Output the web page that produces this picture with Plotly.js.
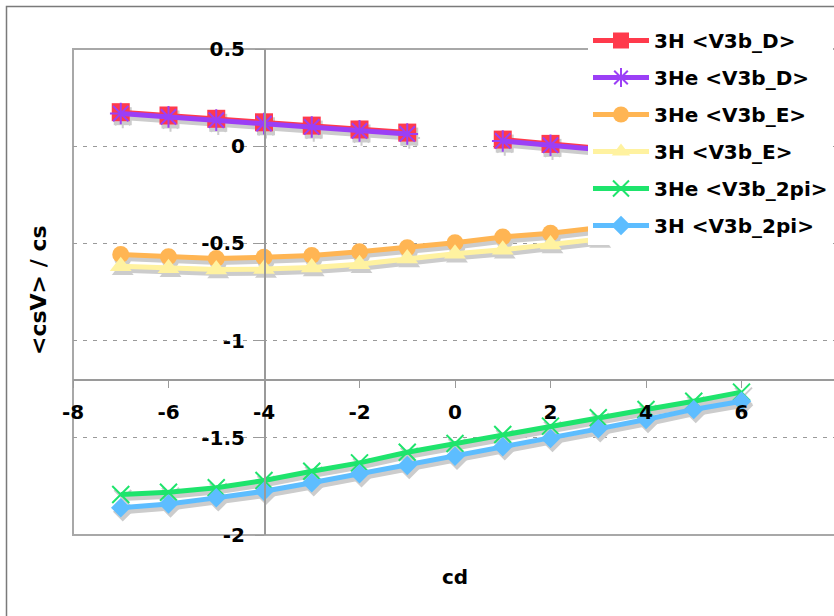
<!DOCTYPE html>
<html><head><meta charset="utf-8">
<script src="https://cdn.plot.ly/plotly-3.0.1.min.js"></script>
<style>html,body{margin:0;padding:0;overflow:hidden;background:#fff}#chart{width:837px;height:616px}</style>
</head><body><div id="chart"></div>
<script>
// ---- data ----
const cd = [-7, -6, -5, -4, -3, -2, -1, 0, 1, 2, 3, 4, 5, 6];
const h3_V3b_D   = [0.175, 0.158, 0.141, 0.123, 0.106, 0.086, 0.070, null, 0.034, 0.012, -0.010];
const he3_V3b_D  = [0.168, 0.151, 0.134, 0.116, 0.099, 0.079, 0.063, null, 0.027, 0.005, -0.017];
const he3_V3b_E  = [-0.557, -0.569, -0.578, -0.571, -0.562, -0.543, -0.523, -0.497, -0.467, -0.448, -0.420];
const h3_V3b_E   = [-0.618, -0.628, -0.634, -0.632, -0.624, -0.607, -0.578, -0.553, -0.533, -0.506, -0.478];
const he3_V3b_2pi = [-1.792, -1.780, -1.757, -1.720, -1.672, -1.629, -1.574, -1.529, -1.483, -1.440, -1.397, -1.354, -1.312, -1.265];
const h3_V3b_2pi  = [-1.860, -1.840, -1.809, -1.775, -1.731, -1.685, -1.643, -1.595, -1.546, -1.504, -1.454, -1.406, -1.354, -1.312];
const seriesNames = ['3H <V3b_D>', '3He <V3b_D>', '3He <V3b_E>', '3H <V3b_E>', '3He <V3b_2pi>', '3H <V3b_2pi>'];
const xTickVals = [-8, -6, -4, -2, 0, 2, 4, 6, 8];
const xTickText = ['-8', '-6', '-4', '-2', '0', '2', '4', '6', '8'];
const yTickVals = [-2, -1.5, -1, -0.5, 0, 0.5];
const yTickText = ['-2', '-1.5', '-1', '-0.5', '0', '0.5'];

// ---- styles ----
const seriesValues = [h3_V3b_D, he3_V3b_D, he3_V3b_E, h3_V3b_E, he3_V3b_2pi, h3_V3b_2pi];
const styles = [
  {color:'#ff3a4c', symbol:'square', size:18, lw:0},
  {color:'#9b3ff6', symbol:'asterisk-open', size:18, lw:2},
  {color:'#ffb553', symbol:'circle', size:17, lw:0},
  {color:'#fff2a0', symbol:'triangle-up', size:19, lw:0},
  {color:'#1ee46c', symbol:'x-thin-open', size:17, lw:2},
  {color:'#5dbdff', symbol:'diamond', size:15, lw:0}
];
const shadow = '#cccccc';
const traces = [{x:[null], y:[null], showlegend:false, hoverinfo:'skip', type:'scatter'}];
seriesValues.forEach((vals, i) => {
  const s = styles[i];
  traces.push({
    x: cd.slice(0, vals.length), y: vals, type:'scatter', mode:'lines+markers',
    xaxis:'x2', yaxis:'y2', showlegend:false, hoverinfo:'skip',
    line:{color:shadow, width:5},
    marker:{symbol:s.symbol, size:s.size, color:shadow, line:{color:shadow, width:s.lw}}
  });
});
seriesValues.forEach((vals, i) => {
  const s = styles[i];
  traces.push({
    x: cd.slice(0, vals.length), y: vals, type:'scatter', mode:'lines+markers',
    name: seriesNames[i], legendgroup: 'g' + i,
    xaxis:'x3', yaxis:'y3',
    line:{color:s.color, width:5},
    marker:{symbol:s.symbol, size:s.size, color:s.color, line:{color:s.color, width:s.lw}}
  });
});

const L = 73, T = 49, W = 764, H = 486;
const px = v => (v - L) / W;
const py = v => 1 - (v - T) / H;

const layout = {
  width: 837, height: 616,
  margin: {l:L, r:0, t:T, b:616 - T - H, pad:0},
  paper_bgcolor:'#fff', plot_bgcolor:'#fff',
  font: {family:'DejaVu Sans, Verdana, sans-serif', size:18, color:'#000', weight:'bold'},
  showlegend: true,
  xaxis: {range:[-8, 8], anchor:'free', position:0.32, showline:true, linecolor:'#9a9a9a', linewidth:1.5,
          ticks:'outside', ticklen:7, tickcolor:'#9a9a9a', tickwidth:1, ticklabelstandoff:7,
          tickvals:xTickVals, ticktext:xTickText, showgrid:false, zeroline:false,
          tickfont:{size:20, weight:'bold'}, fixedrange:true},
  yaxis: {range:[-2, 0.5], anchor:'free', position:0.25, showline:true, linecolor:'#9a9a9a', linewidth:1.5,
          ticks:'outside', ticklen:9, tickcolor:'#9a9a9a', tickwidth:1, ticklabelstandoff:6,
          tickvals:yTickVals, ticktext:yTickText, showgrid:true, gridcolor:'#9a9a9a', gridwidth:1,
          griddash:'4px,6px', zeroline:false, tickfont:{size:20, weight:'bold'}, fixedrange:true},
  xaxis2: {overlaying:'x', anchor:'y2', range:[-8 - 2/47.75, 8 - 2/47.75], visible:false},
  yaxis2: {overlaying:'y', anchor:'x2', range:[-2 + 4/194.4, 0.5 + 4/194.4], visible:false},
  xaxis3: {overlaying:'x', anchor:'y3', range:[-8, 8], visible:false},
  yaxis3: {overlaying:'y', anchor:'x3', range:[-2, 0.5], visible:false},
  legend: {x:px(588), y:py(21), xanchor:'left', yanchor:'top', bgcolor:'#fff', borderwidth:0,
           font:{size:20, weight:'bold'}, itemwidth:56, tracegroupgap:8, traceorder:'grouped'},
  shapes: [
    {type:'rect', xref:'paper', yref:'paper', x0:0, x1:1, y0:0, y1:1, line:{color:'#a8a8a8', width:2}, layer:'below'},
    {type:'rect', xref:'paper', yref:'paper', x0:px(6.5), x1:1.2, y0:-0.3, y1:py(6.5), line:{color:'#7a7a7a', width:1.5}, layer:'below'}
  ],
  annotations: [
    {text:'cd', xref:'paper', yref:'paper', x:px(455), y:py(577), showarrow:false, xanchor:'center', yanchor:'middle',
     font:{size:20, weight:'bold'}},
    {text:'<csV> / cs', xref:'paper', yref:'paper', x:px(38), y:py(290), showarrow:false, textangle:-90,
     xanchor:'center', yanchor:'middle', font:{size:22, weight:'bold'}}
  ]
};
Plotly.newPlot('chart', traces, layout, {displayModeBar:false, staticPlot:true});
</script></body></html>
